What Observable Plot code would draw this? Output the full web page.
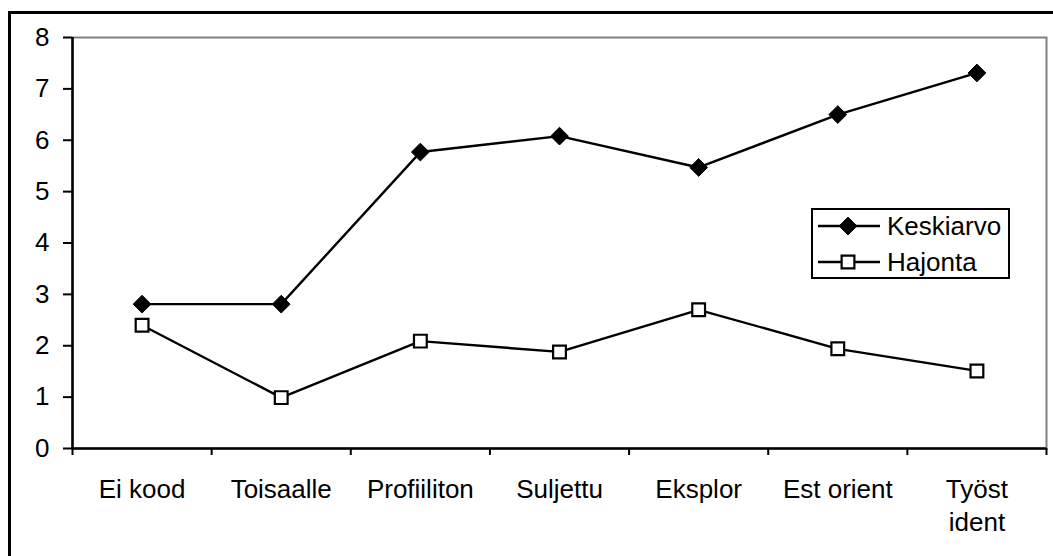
<!DOCTYPE html>
<html><head><meta charset="utf-8">
<script src="https://cdn.jsdelivr.net/npm/d3@7"></script>
<script src="https://cdn.jsdelivr.net/npm/@observablehq/plot@0.6"></script>
<style>
html,body{margin:0;padding:0;overflow:hidden;background:#fff;width:1053px;height:556px;}
#wrap{position:relative;width:1053px;height:556px;overflow:hidden;}
#outer{position:absolute;left:8px;top:11px;width:1200px;height:700px;border-left:3px solid #000;border-top:3px solid #000;pointer-events:none;}
#legend{position:absolute;left:811px;top:208px;}
</style>
</head><body>
<div id="wrap"><div id="outer"></div><div id="chart"></div><div id="legend"></div></div>
<script>
const categories = ["Ei kood", "Toisaalle", "Profiiliton", "Suljettu", "Eksplor", "Est orient", "Työst\nident"];
const keskiarvo = [2.81, 2.81, 5.77, 6.08, 5.47, 6.50, 7.31];
const hajonta = [2.40, 0.99, 2.09, 1.88, 2.70, 1.94, 1.51];
const yTicks = [0, 1, 2, 3, 4, 5, 6, 7, 8];
const seriesNames = ["Keskiarvo", "Hajonta"];

const rows = [];
categories.forEach((c, i) => {
  rows.push({series: seriesNames[0], i, x: i + 0.5, value: keskiarvo[i]});
  rows.push({series: seriesNames[1], i, x: i + 0.5, value: hajonta[i]});
});
const k = rows.filter(d => d.series === seriesNames[0]);
const h = rows.filter(d => d.series === seriesNames[1]);
const font = '"Liberation Sans", Arial, sans-serif';
const fs = 26;

const chart = Plot.plot({
  width: 1053, height: 556,
  marginLeft: 72, marginRight: 7, marginTop: 37, marginBottom: 108,
  style: {fontFamily: font, fontSize: fs + "px", color: "#000", background: "transparent", overflow: "visible"},
  x: {type: "linear", domain: [0, categories.length], label: null},
  y: {domain: [0, 8], label: null},
  marks: [
    Plot.frame({stroke: "#808080", strokeWidth: 2}),
    Plot.axisY({ticks: yTicks, tickSize: 9, tickPadding: 14, strokeWidth: 2, tickFormat: d => String(d), fontSize: fs, label: null}),
    Plot.axisX({ticks: d3.range(categories.length + 1), tickSize: 7, strokeWidth: 2, tickFormat: () => "", label: null}),
    Plot.axisX({ticks: categories.map((c, i) => i + 0.5), tickSize: 0, tickPadding: 27, lineHeight: 1.24,
      tickFormat: d => categories[Math.round(d - 0.5)], fontSize: fs, label: null}),
    Plot.ruleX([0], {stroke: "#000", strokeWidth: 2.5}),
    Plot.ruleY([0], {stroke: "#000", strokeWidth: 2.5}),
    Plot.line(k, {x: "x", y: "value", stroke: "#000", strokeWidth: 2.4}),
    Plot.line(h, {x: "x", y: "value", stroke: "#000", strokeWidth: 2.4}),
    Plot.dot(k, {x: "x", y: "value", symbol: "diamond2", r: 8, fill: "#000", stroke: "#000", strokeWidth: 1}),
    Plot.dot(h, {x: "x", y: "value", symbol: "square", r: 7.2, fill: "#fff", stroke: "#000", strokeWidth: 2.2})
  ]
});
document.getElementById("chart").appendChild(chart);

// Legend
const lw = 199, lh = 71;
const leg = d3.select("#legend").append("svg").attr("width", lw).attr("height", lh)
  .style("font-family", font).style("font-size", fs + "px");
leg.append("rect").attr("x", 1).attr("y", 1).attr("width", lw - 2).attr("height", lh - 2)
  .attr("fill", "#fff").attr("stroke", "#000").attr("stroke-width", 2);
const rowY = [18, 54];
seriesNames.forEach((name, j) => {
  const g = leg.append("g").attr("transform", `translate(0,${rowY[j]})`);
  g.append("line").attr("x1", 7).attr("x2", 69).attr("y1", 0).attr("y2", 0).attr("stroke", "#000").attr("stroke-width", 2.4);
  if (j === 0) {
    g.append("path").attr("transform", "translate(37,0)")
      .attr("d", d3.symbol(d3.symbolDiamond2, Math.PI * 64)()).attr("fill", "#000").attr("stroke", "#000");
  } else {
    g.append("path").attr("transform", "translate(37,0)")
      .attr("d", d3.symbol(d3.symbolSquare, Math.PI * 7.2 * 7.2)()).attr("fill", "#fff").attr("stroke", "#000").attr("stroke-width", 2.2);
  }
  g.append("text").attr("x", 76).attr("y", 9).text(name);
});
</script>
</body></html>
